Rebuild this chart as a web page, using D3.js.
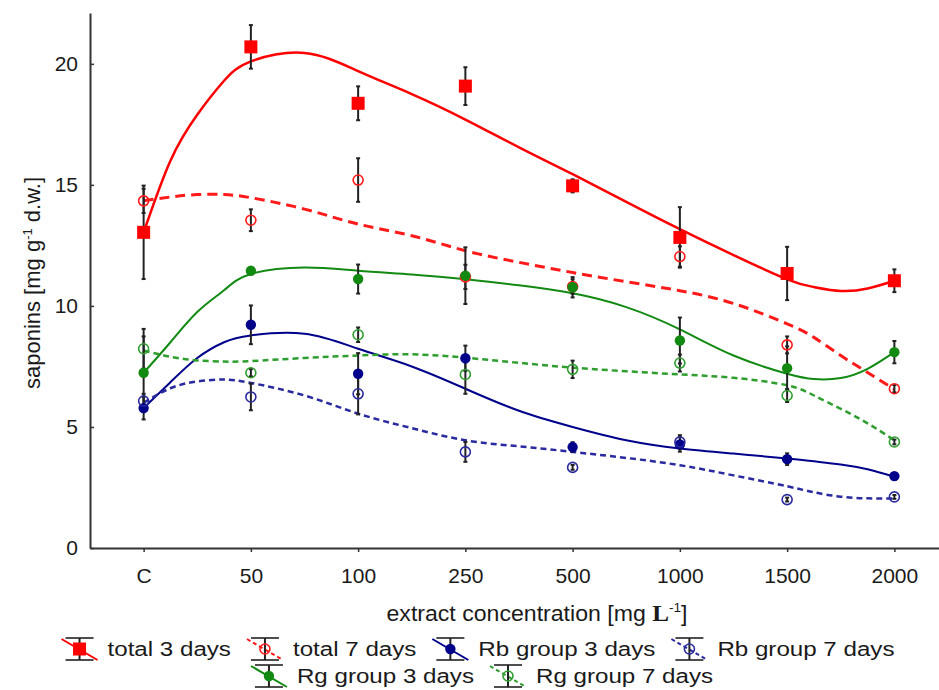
<!DOCTYPE html>
<html>
<head>
<meta charset="utf-8">
<script src="https://cdn.jsdelivr.net/npm/d3@7"></script>
<style>
  body { margin: 0; background: #fff; }
  text { font-family: "Liberation Sans", Arial, sans-serif; fill: #1a1a1a; }
</style>
</head>
<body>
<div id="chart"></div>
<script>
const categories = ["C", "50", "100", "250", "500", "1000", "1500", "2000"];
const yTicks = [0, 5, 10, 15, 20];

// measured means and error (+/-) per concentration
const total3 = [13.04, 20.7, 18.37, 19.08, 14.96, 12.83, 11.34, 11.04];
const total3Err = [1.93, 0.9, 0.7, 0.78, 0.27, 1.25, 1.1, 0.47];
const total7 = [14.34, 13.54, 15.2, 11.2, 10.8, 12.04, 8.39, 6.58];
const total7Err = [0.5, 0.45, 0.9, 0.5, 0.3, 0.42, 0.35, 0.15];
const rb3 = [5.78, 9.22, 7.2, 7.84, 4.17, 4.28, 3.67, 2.97];
const rb3Err = [0.47, 0.8, 0.85, 0.52, 0.2, 0.3, 0.24, 0.08];
const rb7 = [6.07, 6.24, 6.37, 3.97, 3.33, 4.38, 2.0, 2.11];
const rb7Err = [0.3, 0.55, 0.85, 0.41, 0.1, 0.28, 0.08, 0.08];
const rg3 = [7.24, 11.45, 11.11, 11.25, 10.77, 8.57, 7.43, 8.09];
const rg3Err = [1.5, 0.1, 0.6, 1.17, 0.42, 0.95, 0.9, 0.46];
const rg7 = [8.23, 7.24, 8.81, 7.17, 7.38, 7.64, 6.3, 4.38];
const rg7Err = [0.82, 0.15, 0.3, 0.8, 0.36, 0.35, 0.27, 0.1];

// fitted curves at category-index positions
const fitX = [0, 0.25, 0.5, 0.75, 1, 1.5, 2, 2.5, 3, 3.5, 4, 4.5, 5, 5.5, 6, 6.25, 6.5, 6.75, 7];
const total3Fit = [13.04, 16.0, 17.9, 19.3, 20.1, 20.45, 19.7, 18.75, 17.7, 16.55, 15.44, 14.3, 13.17, 12.1, 11.1, 10.78, 10.62, 10.72, 11.04];
const total7Fit = [14.34, 14.5, 14.6, 14.6, 14.47, 14.0, 13.38, 12.9, 12.28, 11.8, 11.38, 11.0, 10.63, 10.1, 9.26, 8.7, 7.95, 7.25, 6.55];
const rb3Fit = [5.78, 6.85, 7.85, 8.5, 8.78, 8.85, 8.23, 7.5, 6.58, 5.67, 5.0, 4.45, 4.11, 3.9, 3.7, 3.58, 3.45, 3.25, 2.94];
const rb7Fit = [6.0, 6.6, 6.88, 6.96, 6.82, 6.3, 5.55, 4.95, 4.45, 4.2, 3.97, 3.72, 3.42, 3.0, 2.55, 2.3, 2.12, 2.05, 2.05];
const rg3Fit = [7.24, 8.5, 9.75, 10.65, 11.32, 11.59, 11.45, 11.3, 11.1, 10.85, 10.52, 9.95, 9.03, 7.95, 7.2, 6.98, 7.02, 7.4, 8.09];
const rg7Fit = [8.16, 7.9, 7.75, 7.7, 7.72, 7.85, 7.95, 8.0, 7.86, 7.65, 7.45, 7.3, 7.17, 7.03, 6.72, 6.3, 5.75, 5.15, 4.45];

const series = [
  { name: "total 3 days", vals: total3, err: total3Err, fit: total3Fit, color: "#ff0000", marker: "square", filled: true, dash: null, lw: 2.5 },
  { name: "total 7 days", vals: total7, err: total7Err, fit: total7Fit, color: "#ff1a1a", marker: "circle", filled: false, dash: "10,6", lw: 3 },
  { name: "Rb group 3 days", vals: rb3, err: rb3Err, fit: rb3Fit, color: "#00008b", marker: "circle", filled: true, dash: null, lw: 2 },
  { name: "Rb group 7 days", vals: rb7, err: rb7Err, fit: rb7Fit, color: "#2a2aa0", marker: "circle", filled: false, dash: "6,4", lw: 2.5 },
  { name: "Rg group 3 days", vals: rg3, err: rg3Err, fit: rg3Fit, color: "#128a12", marker: "circle", filled: true, dash: null, lw: 2 },
  { name: "Rg group 7 days", vals: rg7, err: rg7Err, fit: rg7Fit, color: "#2e9e2e", marker: "circle", filled: false, dash: "6,4", lw: 2.5 }
];

const W = 939, H = 690;
const svg = d3.select("#chart").append("svg").attr("width", W).attr("height", H);
svg.append("rect").attr("width", W).attr("height", H).attr("fill", "#fff");

const x = d3.scalePoint().domain(categories).range([90, 948]).padding(0.5);
const xi = d3.scaleLinear().domain([0, 7]).range([x(categories[0]), x(categories[7])]);
const y = d3.scaleLinear().domain([0, 22.1]).range([548, 13]);

// axes
const gy = svg.append("g").attr("transform", "translate(90,0)")
  .call(d3.axisLeft(y).tickValues(yTicks).tickSizeInner(-4).tickSizeOuter(0).tickPadding(12));
const gx = svg.append("g").attr("transform", "translate(0,548)")
  .call(d3.axisBottom(x).tickSizeInner(4).tickSizeOuter(0).tickPadding(16));
[gy, gx].forEach(g => {
  g.select(".domain").attr("stroke", "#333").attr("stroke-width", 2);
  g.selectAll(".tick line").attr("stroke", "#333").attr("stroke-width", 1.5);
  g.selectAll(".tick text").style("font-size", "21px").attr("fill", "#1a1a1a")
    .style("font-family", "'Liberation Sans', Arial, sans-serif");
});

// axis titles
const yt = svg.append("text").attr("transform", "translate(40,283) rotate(-90)")
  .attr("text-anchor", "middle").style("font-size", "22px");
yt.append("tspan").text("saponins [mg g");
yt.append("tspan").text("-1").attr("dy", -8).style("font-size", "13px");
yt.append("tspan").text(" d.w.]").attr("dy", 8);

const xt = svg.append("text").attr("transform", "translate(537,621) scale(1.05,1)")
  .attr("text-anchor", "middle").style("font-size", "22px");
xt.append("tspan").text("extract concentration [mg ");
xt.append("tspan").text("L").style("font-family", "'Liberation Serif', 'Times New Roman', serif").style("font-weight", "bold").style("font-size", "24px");
xt.append("tspan").text("-1").attr("dy", -9).style("font-size", "13px");
xt.append("tspan").text("]").attr("dy", 9);

// fitted curves
const line = d3.line().x(d => xi(d[0])).y(d => y(d[1])).curve(d3.curveNatural);
series.forEach(s => {
  svg.append("path")
    .attr("d", line(fitX.map((fx, i) => [fx, s.fit[i]])))
    .attr("fill", "none")
    .attr("stroke", s.color)
    .attr("stroke-width", s.lw)
    .attr("stroke-dasharray", s.dash);
});

// error bars
series.forEach(s => {
  const g = svg.append("g").attr("stroke", "#222").attr("stroke-width", 2);
  s.vals.forEach((v, i) => {
    const cx = x(categories[i]);
    g.append("line").attr("x1", cx).attr("x2", cx).attr("y1", y(v - s.err[i])).attr("y2", y(v + s.err[i]));
    [v - s.err[i], v + s.err[i]].forEach(e => {
      g.append("line").attr("x1", cx - 2).attr("x2", cx + 2).attr("y1", y(e)).attr("y2", y(e));
    });
  });
});

function drawMarker(g, s, cx, cy) {
  if (s.marker === "square") {
    g.append("rect").attr("x", cx - 6.5).attr("y", cy - 6.5).attr("width", 13).attr("height", 13).attr("fill", s.color);
  } else if (s.filled) {
    g.append("circle").attr("cx", cx).attr("cy", cy).attr("r", 5.2).attr("fill", s.color);
  } else {
    g.append("circle").attr("cx", cx).attr("cy", cy).attr("r", 5).attr("fill", "none")
      .attr("stroke", s.color).attr("stroke-width", 1.6);
  }
}

// markers
series.forEach(s => {
  const g = svg.append("g");
  s.vals.forEach((v, i) => drawMarker(g, s, x(categories[i]), y(v)));
});

// legend
const rows = [series.slice(0, 4), series.slice(4)];
const rowY = [649, 676];
const rowCenter = [477, 481];
const txtScale = 1.15, gap = 14;
rows.forEach((items, r) => {
  const g = svg.append("g");
  let cx = 0;
  items.forEach(s => {
    const it = g.append("g").attr("transform", `translate(${cx},${rowY[r]})`);
    const ic = it.append("g").attr("transform", "translate(20,0)");
    ic.append("line").attr("x1", -18).attr("x2", 18).attr("y1", -10).attr("y2", 11)
      .attr("stroke", s.color).attr("stroke-width", 2).attr("stroke-dasharray", s.dash ? "4,3" : null);
    ic.append("line").attr("x1", 0).attr("x2", 0).attr("y1", -11).attr("y2", 11).attr("stroke", "#222").attr("stroke-width", 2);
    ic.append("line").attr("x1", -14).attr("x2", 14).attr("y1", -11).attr("y2", -11).attr("stroke", "#222").attr("stroke-width", 1.6);
    ic.append("line").attr("x1", -14).attr("x2", 14).attr("y1", 11).attr("y2", 11).attr("stroke", "#222").attr("stroke-width", 1.6);
    drawMarker(ic, s, 0, 0);
    const t = it.append("text").attr("transform", `translate(48,0) scale(${txtScale},1)`)
      .attr("dy", "0.35em").style("font-size", "21px").text(s.name);
    cx += 48 + t.node().getComputedTextLength() * txtScale + gap;
  });
  const bw = cx - gap;
  g.attr("transform", `translate(${rowCenter[r] - bw / 2},0)`);
});
</script>
</body>
</html>
